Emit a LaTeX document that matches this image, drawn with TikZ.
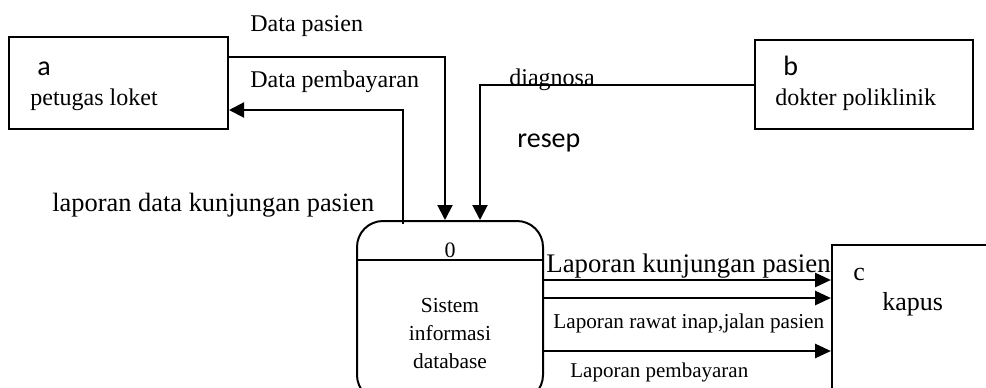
\documentclass[tikz,border=0pt]{standalone}
\usepackage{fontspec}
\setmainfont{Liberation Serif}
\newfontfamily\calibri{Carlito}
\usetikzlibrary{arrows.meta,positioning}

\begin{document}
\begin{tikzpicture}[x=0.5pt, y=-0.5pt,
    entity/.style={draw, line width=1pt, inner sep=0pt},
    lbl/.style={anchor=base west, inner sep=0pt, font=\fontsize{12}{14}\selectfont},
    arr/.style={-{Triangle[length=7.5pt,width=7.5pt]}, line width=1pt},
    outarr/.style={-{Triangle[length=8pt,width=7pt]}, line width=1.4pt}
]
\clip (0,0) rectangle (986,387);
\useasboundingbox (0,0) rectangle (986,387);

% external entities
\node[entity, minimum width=109.5pt, minimum height=46pt] (loket) at (118.5,83) {};
\node[entity, minimum width=109pt, minimum height=44.5pt] (dokter) at (864,84.5) {};
\node[entity, minimum width=89pt, minimum height=82.5pt] (kapus) at (921,327.5) {};
\node[lbl, font=\calibri\fontsize{14}{16}\selectfont] (ida) at (37,75) {a};
\node[lbl] (nloket) at (30,105) {petugas loket};
\node[lbl, font=\calibri\fontsize{14}{16}\selectfont] (idb) at (783,75) {b};
\node[lbl] (ndokter) at (775,105) {dokter poliklinik};
\node[lbl, font=\fontsize{13}{15}\selectfont] (idc) at (853,280) {c};
\node[lbl, font=\fontsize{13}{15}\selectfont] (nkapus) at (882,310) {kapus};

% process
\node[entity, rounded corners=13pt, minimum width=93pt, minimum height=90pt] (proc) at (450,311) {};
\draw[line width=1pt] ([yshift=-20pt]proc.north west) -- ([yshift=-20pt]proc.north east);
\node[anchor=base, inner sep=0pt, font=\fontsize{11}{13}\selectfont] (pnum) at (450,257) {0};
\node[anchor=base, inner sep=0pt, font=\fontsize{10.7}{13}\selectfont] (pname1) at (450,312) {Sistem};
\node[anchor=base, inner sep=0pt, font=\fontsize{10.7}{13}\selectfont] (pname2) at (450,340) {informasi};
\node[anchor=base, inner sep=0pt, font=\fontsize{10.7}{13}\selectfont] (pname3) at (450,368) {database};

% flows
\draw[arr] ([yshift=13pt]loket.east) -| ([xshift=-2.5pt]proc.north);
\draw[arr] ([xshift=-23.5pt,yshift=-2pt]proc.north) |- ([yshift=-13.5pt]loket.east);
\draw[arr] (dokter.west) -| ([xshift=15pt]proc.north);
\draw[outarr] ([yshift=15.5pt]proc.east) -- ([yshift=15.5pt]proc.east -| kapus.west);
\draw[outarr] ([yshift=6.5pt]proc.east) -- ([yshift=6.5pt]proc.east -| kapus.west);
\draw[outarr] ([yshift=-20pt]proc.east) -- ([yshift=-20pt]proc.east -| kapus.west);

% flow labels
\node[lbl] (fpasien) at (250,31) {Data pasien};
\node[lbl] (fbayar) at (250,87) {Data pembayaran};
\node[lbl, font=\fontsize{13.2}{15}\selectfont] (fkunj) at (52,211) {laporan data kunjungan pasien};
\node[lbl] (fdiag) at (509,85) {diagnosa};
\node[lbl, font=\calibri\fontsize{14}{16}\selectfont] (fresep) at (517,147) {resep};
\node[lbl, font=\fontsize{13.4}{15}\selectfont] (flapkunj) at (546,272) {Laporan kunjungan pasien};
\node[lbl, font=\fontsize{10.6}{13}\selectfont] (flaprawat) at (553,328) {Laporan rawat inap,jalan pasien};
\node[lbl, font=\fontsize{10.5}{13}\selectfont] (flapbayar) at (570,377) {Laporan pembayaran};
\end{tikzpicture}
\end{document}
